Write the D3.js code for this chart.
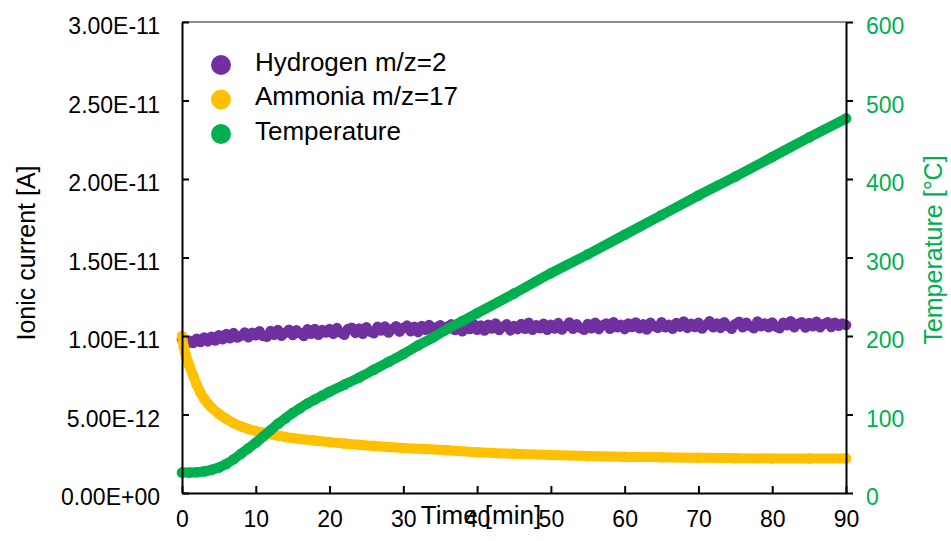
<!DOCTYPE html>
<html>
<head>
<meta charset="utf-8">
<script src="https://cdn.jsdelivr.net/npm/d3@7/dist/d3.min.js"></script>
<style>
  html, body { margin: 0; padding: 0; background: #fff; }
  svg { display: block; font-family: "Liberation Sans", Arial, sans-serif; }
</style>
</head>
<body>
<svg id="chart" width="951" height="541"></svg>
<script>
// Hydrogen m/z=2 ionic current, pA, sampled every 0.5 min from 0 to 90 min
const hydrogenPA = [
  9.80, 9.48, 9.70, 9.55, 9.82, 9.62, 9.90, 9.66, 9.95, 9.72,
  10.05, 9.80, 10.12, 9.86, 10.18, 9.90, 10.02, 10.22, 9.92, 10.20,
  10.05, 10.30, 10.00, 9.95, 10.32, 10.08, 10.38, 10.02, 10.20, 10.40,
  10.06, 10.36, 10.18, 10.00, 10.42, 10.15, 10.45, 10.08, 10.38, 10.22,
  10.44, 10.15, 10.50, 10.22, 10.08, 10.45, 10.52, 10.20, 10.48, 10.14,
  10.55, 10.28, 10.18, 10.58, 10.35, 10.60, 10.22, 10.45, 10.62, 10.28,
  10.52, 10.66, 10.30, 10.58, 10.25, 10.64, 10.40, 10.70, 10.32, 10.56,
  10.68, 10.34, 10.60, 10.74, 10.38, 10.62, 10.30, 10.70, 10.45, 10.76,
  10.40, 10.66, 10.35, 10.72, 10.48, 10.80, 10.38, 10.60, 10.74, 10.36,
  10.64, 10.44, 10.76, 10.46, 10.84, 10.40, 10.68, 10.50, 10.78, 10.40,
  10.72, 10.48, 10.82, 10.42, 10.62, 10.86, 10.46, 10.74, 10.52, 10.40,
  10.76, 10.50, 10.84, 10.44, 10.68, 10.80, 10.46, 10.88, 10.56, 10.72,
  10.44, 10.80, 10.58, 10.86, 10.50, 10.74, 10.42, 10.84, 10.62, 10.52,
  10.88, 10.56, 10.72, 10.46, 10.82, 10.60, 10.92, 10.52, 10.78, 10.58,
  10.84, 10.48, 10.70, 10.94, 10.56, 10.80, 10.52, 10.88, 10.64, 10.46,
  10.76, 10.90, 10.56, 10.84, 10.64, 10.50, 10.92, 10.62, 10.80, 10.56,
  10.86, 10.60, 10.50, 10.84, 10.68, 10.94, 10.56, 10.78, 10.88, 10.54,
  10.82, 10.62, 10.90, 10.56, 10.76, 10.88, 10.58, 10.84, 10.66, 10.80,
  10.70
];
const hydrogenTime = hydrogenPA.map((_, i) => i * 0.5);

// Ammonia m/z=17 ionic current, pA
const ammoniaTime = [0, 0.25, 0.5, 0.75, 1, 1.5, 2, 2.5, 3, 3.5, 4, 5, 6, 7, 8, 9, 10, 11, 12, 13, 14, 15, 16,
  18, 20, 22, 24, 26, 28, 30, 33, 36, 40, 45, 50, 55, 60, 65, 70, 75, 80, 85, 90];
const ammoniaPA = [10.0, 9.3, 8.8, 8.4, 8.1, 7.5, 6.9, 6.4, 6.0, 5.7, 5.45, 5.05, 4.72, 4.45, 4.25, 4.08, 3.95, 3.85, 3.75, 3.66, 3.57, 3.5, 3.44,
  3.34, 3.24, 3.15, 3.07, 3.0, 2.93, 2.87, 2.8, 2.73, 2.6, 2.5, 2.42, 2.35, 2.3, 2.27, 2.24, 2.22, 2.2, 2.19, 2.2];

// Temperature, °C
const temperatureTime = [0, 1, 2, 3, 4, 5, 6, 7, 8, 9, 10, 11, 12, 13, 14, 15, 16, 17, 18, 19, 20,
  22, 24, 26, 28, 30, 32, 34, 36, 38, 40, 45, 50, 55, 60, 65, 70, 75, 80, 85, 90];
const temperatureC = [26, 26, 26.5, 27.5, 29.5, 32.5, 37, 43, 50, 57, 64, 72, 80, 88, 95, 102, 108, 114, 119, 124, 129,
  138, 147, 157, 167, 177, 188, 198, 209, 219, 229, 254, 280, 304, 329, 354, 379, 403, 428, 453, 477];

// Axis ticks
const timeTicks = [0, 10, 20, 30, 40, 50, 60, 70, 80, 90];
const currentTicks = [0, 5e-12, 10e-12, 15e-12, 20e-12, 25e-12, 30e-12];
const currentTickLabels = ["0.00E+00", "5.00E-12", "1.00E-11", "1.50E-11", "2.00E-11", "2.50E-11", "3.00E-11"];
const temperatureTicks = [0, 100, 200, 300, 400, 500, 600];

const seriesNames = ["Hydrogen m/z=2", "Ammonia m/z=17", "Temperature"];
const seriesColors = ["#7030A0", "#FFC000", "#00B050"];

const svg = d3.select("#chart");
const plot = { left: 182, right: 846, top: 22, bottom: 493 };

const x = d3.scaleLinear().domain([0, 90]).range([plot.left, plot.right]);
const yCurrent = d3.scaleLinear().domain([0, 30e-12]).range([plot.bottom, plot.top]);
const yTemp = d3.scaleLinear().domain([0, 600]).range([plot.bottom, plot.top]);

const hydrogen = hydrogenTime.map((t, i) => ({ t, v: hydrogenPA[i] * 1e-12 }));
const ammonia = ammoniaTime.map((t, i) => ({ t, v: ammoniaPA[i] * 1e-12 }));
const temperature = temperatureTime.map((t, i) => ({ t, v: temperatureC[i] }));

// Top frame line
svg.append("line")
  .attr("x1", plot.left).attr("x2", plot.right)
  .attr("y1", plot.top).attr("y2", plot.top)
  .attr("stroke", "#8c8c8c").attr("stroke-width", 2);

// Series: dense round markers joined by a thick stroke
function drawSeries(data, yScale, color, curve, width) {
  const g = svg.append("g");
  g.append("path")
    .datum(data)
    .attr("fill", "none")
    .attr("stroke", color)
    .attr("stroke-width", width)
    .attr("stroke-linecap", "round")
    .attr("stroke-linejoin", "round")
    .attr("d", d3.line().x(d => x(d.t)).y(d => yScale(d.v)).curve(curve));
  g.selectAll("circle")
    .data(data)
    .join("circle")
    .attr("cx", d => x(d.t))
    .attr("cy", d => yScale(d.v))
    .attr("r", 5.3)
    .attr("fill", color);
}
drawSeries(hydrogen, yCurrent, seriesColors[0], d3.curveLinear, 9);
drawSeries(ammonia, yCurrent, seriesColors[1], d3.curveMonotoneX, 10);
drawSeries(temperature, yTemp, seriesColors[2], d3.curveMonotoneX, 10);

// Axes
const fontSize = 23;
function styleAxis(g, color) {
  g.select(".domain").attr("stroke", "#000").attr("stroke-width", 2);
  g.selectAll(".tick line").attr("stroke", "#000").attr("stroke-width", 2);
  g.selectAll(".tick text").attr("fill", color).attr("font-size", fontSize)
    .attr("font-family", "Liberation Sans, Arial, sans-serif");
}

const leftAxis = svg.append("g")
  .attr("transform", `translate(${plot.left},0)`)
  .call(d3.axisLeft(yCurrent).tickValues(currentTicks)
    .tickFormat((d, i) => currentTickLabels[i])
    .tickSizeInner(-7).tickSizeOuter(0).tickPadding(22));
styleAxis(leftAxis, "#000");
leftAxis.selectAll(".tick text").attr("dy", null).attr("y", 11.5);

const rightAxis = svg.append("g")
  .attr("transform", `translate(${plot.right},0)`)
  .call(d3.axisRight(yTemp).tickValues(temperatureTicks)
    .tickSizeInner(7).tickSizeOuter(0).tickPadding(13));
styleAxis(rightAxis, "#00B050");
rightAxis.selectAll(".tick text").attr("dy", null).attr("y", 11.5);

const bottomAxis = svg.append("g")
  .attr("transform", `translate(0,${plot.bottom})`)
  .call(d3.axisBottom(x).tickValues(timeTicks)
    .tickSizeInner(-7).tickSizeOuter(0).tickPadding(0));
styleAxis(bottomAxis, "#000");
bottomAxis.selectAll(".tick text").attr("dy", null).attr("y", 34);

// Axis titles
const titleSize = 25;
svg.append("text")
  .attr("transform", `translate(${35},${253}) rotate(-90)`)
  .attr("text-anchor", "middle")
  .attr("font-size", titleSize)
  .attr("fill", "#000")
  .text("Ionic current [A]");

svg.append("text")
  .attr("transform", `translate(${942},${250}) rotate(-90)`)
  .attr("text-anchor", "middle")
  .attr("font-size", titleSize)
  .attr("fill", "#00B050")
  .text("Temperature [°C]");

svg.append("text")
  .attr("x", 481).attr("y", 524)
  .attr("text-anchor", "middle")
  .attr("font-size", titleSize + 1)
  .attr("fill", "#000")
  .text("Time [min]");

// Legend
const legend = svg.append("g");
seriesNames.forEach((name, i) => {
  const cy = 65 + i * 34.5;
  legend.append("circle")
    .attr("cx", 221).attr("cy", cy).attr("r", 10)
    .attr("fill", seriesColors[i]);
  legend.append("text")
    .attr("x", 255).attr("y", cy + 5.5)
    .attr("font-size", 26)
    .attr("fill", "#000")
    .text(name);
});
</script>
</body>
</html>
